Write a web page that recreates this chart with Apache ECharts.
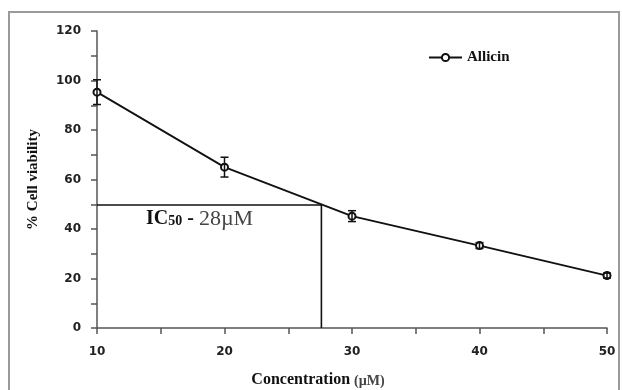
<!DOCTYPE html>
<html><head><meta charset="utf-8">
<script src="https://cdn.jsdelivr.net/npm/echarts@6/dist/echarts.min.js"></script>
<style>html,body{margin:0;padding:0;background:#fff}#c{width:622px;height:390px}</style>
</head><body><div id="c"></div>
<script>
const concentrations = [10, 20, 30, 40, 50];
const viability = [95.3, 65, 45.2, 33.3, 21.2];
const errors = [5, 4, 2.2, 1.2, 1];
const ic50Conc = [27.6];
const ic50Viab = [49.7];
const xTickLabels = [10, 20, 30, 40, 50];
const yTickLabels = [0, 20, 40, 60, 80, 100, 120];

const chart = echarts.init(document.getElementById('c'));
const lineData = concentrations.map((c, i) => [c, viability[i]]);
const errData = concentrations.map((c, i) => [c, viability[i] - errors[i], viability[i] + errors[i]]);
const icData = [[concentrations[0], ic50Viab[0]], [ic50Conc[0], ic50Viab[0]], [ic50Conc[0], 0]];

chart.setOption({
  animation: false,
  backgroundColor: '#fff',
  grid: { left: 97, right: 15, top: 31, bottom: 62, outerBoundsMode: 'none', containLabel: false },
  graphic: [
    { type: 'rect', shape: { x: 9, y: 12, width: 610, height: 400 }, style: { fill: 'none', stroke: '#9a9a9a', lineWidth: 2 }, z: -10 },
    { type: 'text', left: 146, top: 208, style: {
        text: '{b|IC}{s|50}{b| - }{n|28µM}',
        rich: {
          b: { fontFamily: 'Liberation Serif', fontWeight: 'bold', fontSize: 20, fill: '#111' },
          s: { fontFamily: 'Liberation Serif', fontWeight: 'bold', fontSize: 14, fill: '#111', padding: [4, 0, 0, 0] },
          n: { fontFamily: 'Liberation Serif', fontSize: 22, fill: '#444' }
        } } }
  ],
  legend: {
    left: 423, top: 45, itemWidth: 33, itemHeight: 9, itemGap: 4,
    textStyle: { fontFamily: 'Liberation Serif', fontWeight: 'bold', fontSize: 15, color: '#111' },
    data: ['Allicin']
  },
  xAxis: {
    type: 'value', min: 10, max: 50, interval: 5,
    name: 'Concentration {u|(µM)}', nameLocation: 'middle', nameGap: 43,
    nameTextStyle: { fontFamily: 'Liberation Serif', fontWeight: 'bold', fontSize: 16, color: '#111', padding: [0, 68, 0, 0],
      rich: { u: { fontFamily: 'Liberation Serif', fontSize: 14, color: '#444', padding: [3, 0, 0, 0] } } },
    axisLine: { lineStyle: { color: '#555', width: 1.5 } },
    axisTick: { inside: false, length: 6, lineStyle: { color: '#555', width: 1.5 } },
    axisLabel: { margin: 18, fontFamily: 'DejaVu Sans', fontWeight: 'bold', fontSize: 12, color: '#222',
      formatter: v => xTickLabels.includes(v) ? String(v) : '' },
    splitLine: { show: false }
  },
  yAxis: {
    type: 'value', min: 0, max: 120, interval: 10,
    name: '% Cell viability', nameLocation: 'middle', nameGap: 56, nameRotate: 90,
    nameTextStyle: { fontFamily: 'Liberation Serif', fontWeight: 'bold', fontSize: 15, color: '#111' },
    axisLine: { show: true, lineStyle: { color: '#555', width: 1.5 } },
    axisTick: { show: true, length: 6, lineStyle: { color: '#555', width: 1.5 } },
    axisLabel: { margin: 16, fontFamily: 'DejaVu Sans', fontWeight: 'bold', fontSize: 12, color: '#222',
      formatter: v => yTickLabels.includes(v) ? String(v) : '' },
    splitLine: { show: false }
  },
  series: [
    { name: 'IC50', type: 'line', data: icData, symbol: 'none', silent: true,
      lineStyle: { color: '#111', width: 1.6 }, z: 1 },
    { name: 'Allicin', type: 'line', data: lineData, symbol: 'emptyCircle', symbolSize: 7,
      itemStyle: { color: '#111', borderColor: '#111', borderWidth: 1.6 },
      lineStyle: { color: '#111', width: 1.8 }, z: 3 },
    { name: 'err', type: 'custom', data: errData, z: 4,
      renderItem: (params, api) => {
        const x = api.value(0);
        const lo = api.coord([x, api.value(1)]);
        const hi = api.coord([x, api.value(2)]);
        const w = 4;
        const st = { stroke: '#111', lineWidth: 1.5 };
        return { type: 'group', children: [
          { type: 'line', shape: { x1: lo[0], y1: lo[1], x2: hi[0], y2: hi[1] }, style: st },
          { type: 'line', shape: { x1: lo[0] - w, y1: lo[1], x2: lo[0] + w, y2: lo[1] }, style: st },
          { type: 'line', shape: { x1: hi[0] - w, y1: hi[1], x2: hi[0] + w, y2: hi[1] }, style: st }
        ] };
      } }
  ]
});
</script></body></html>
